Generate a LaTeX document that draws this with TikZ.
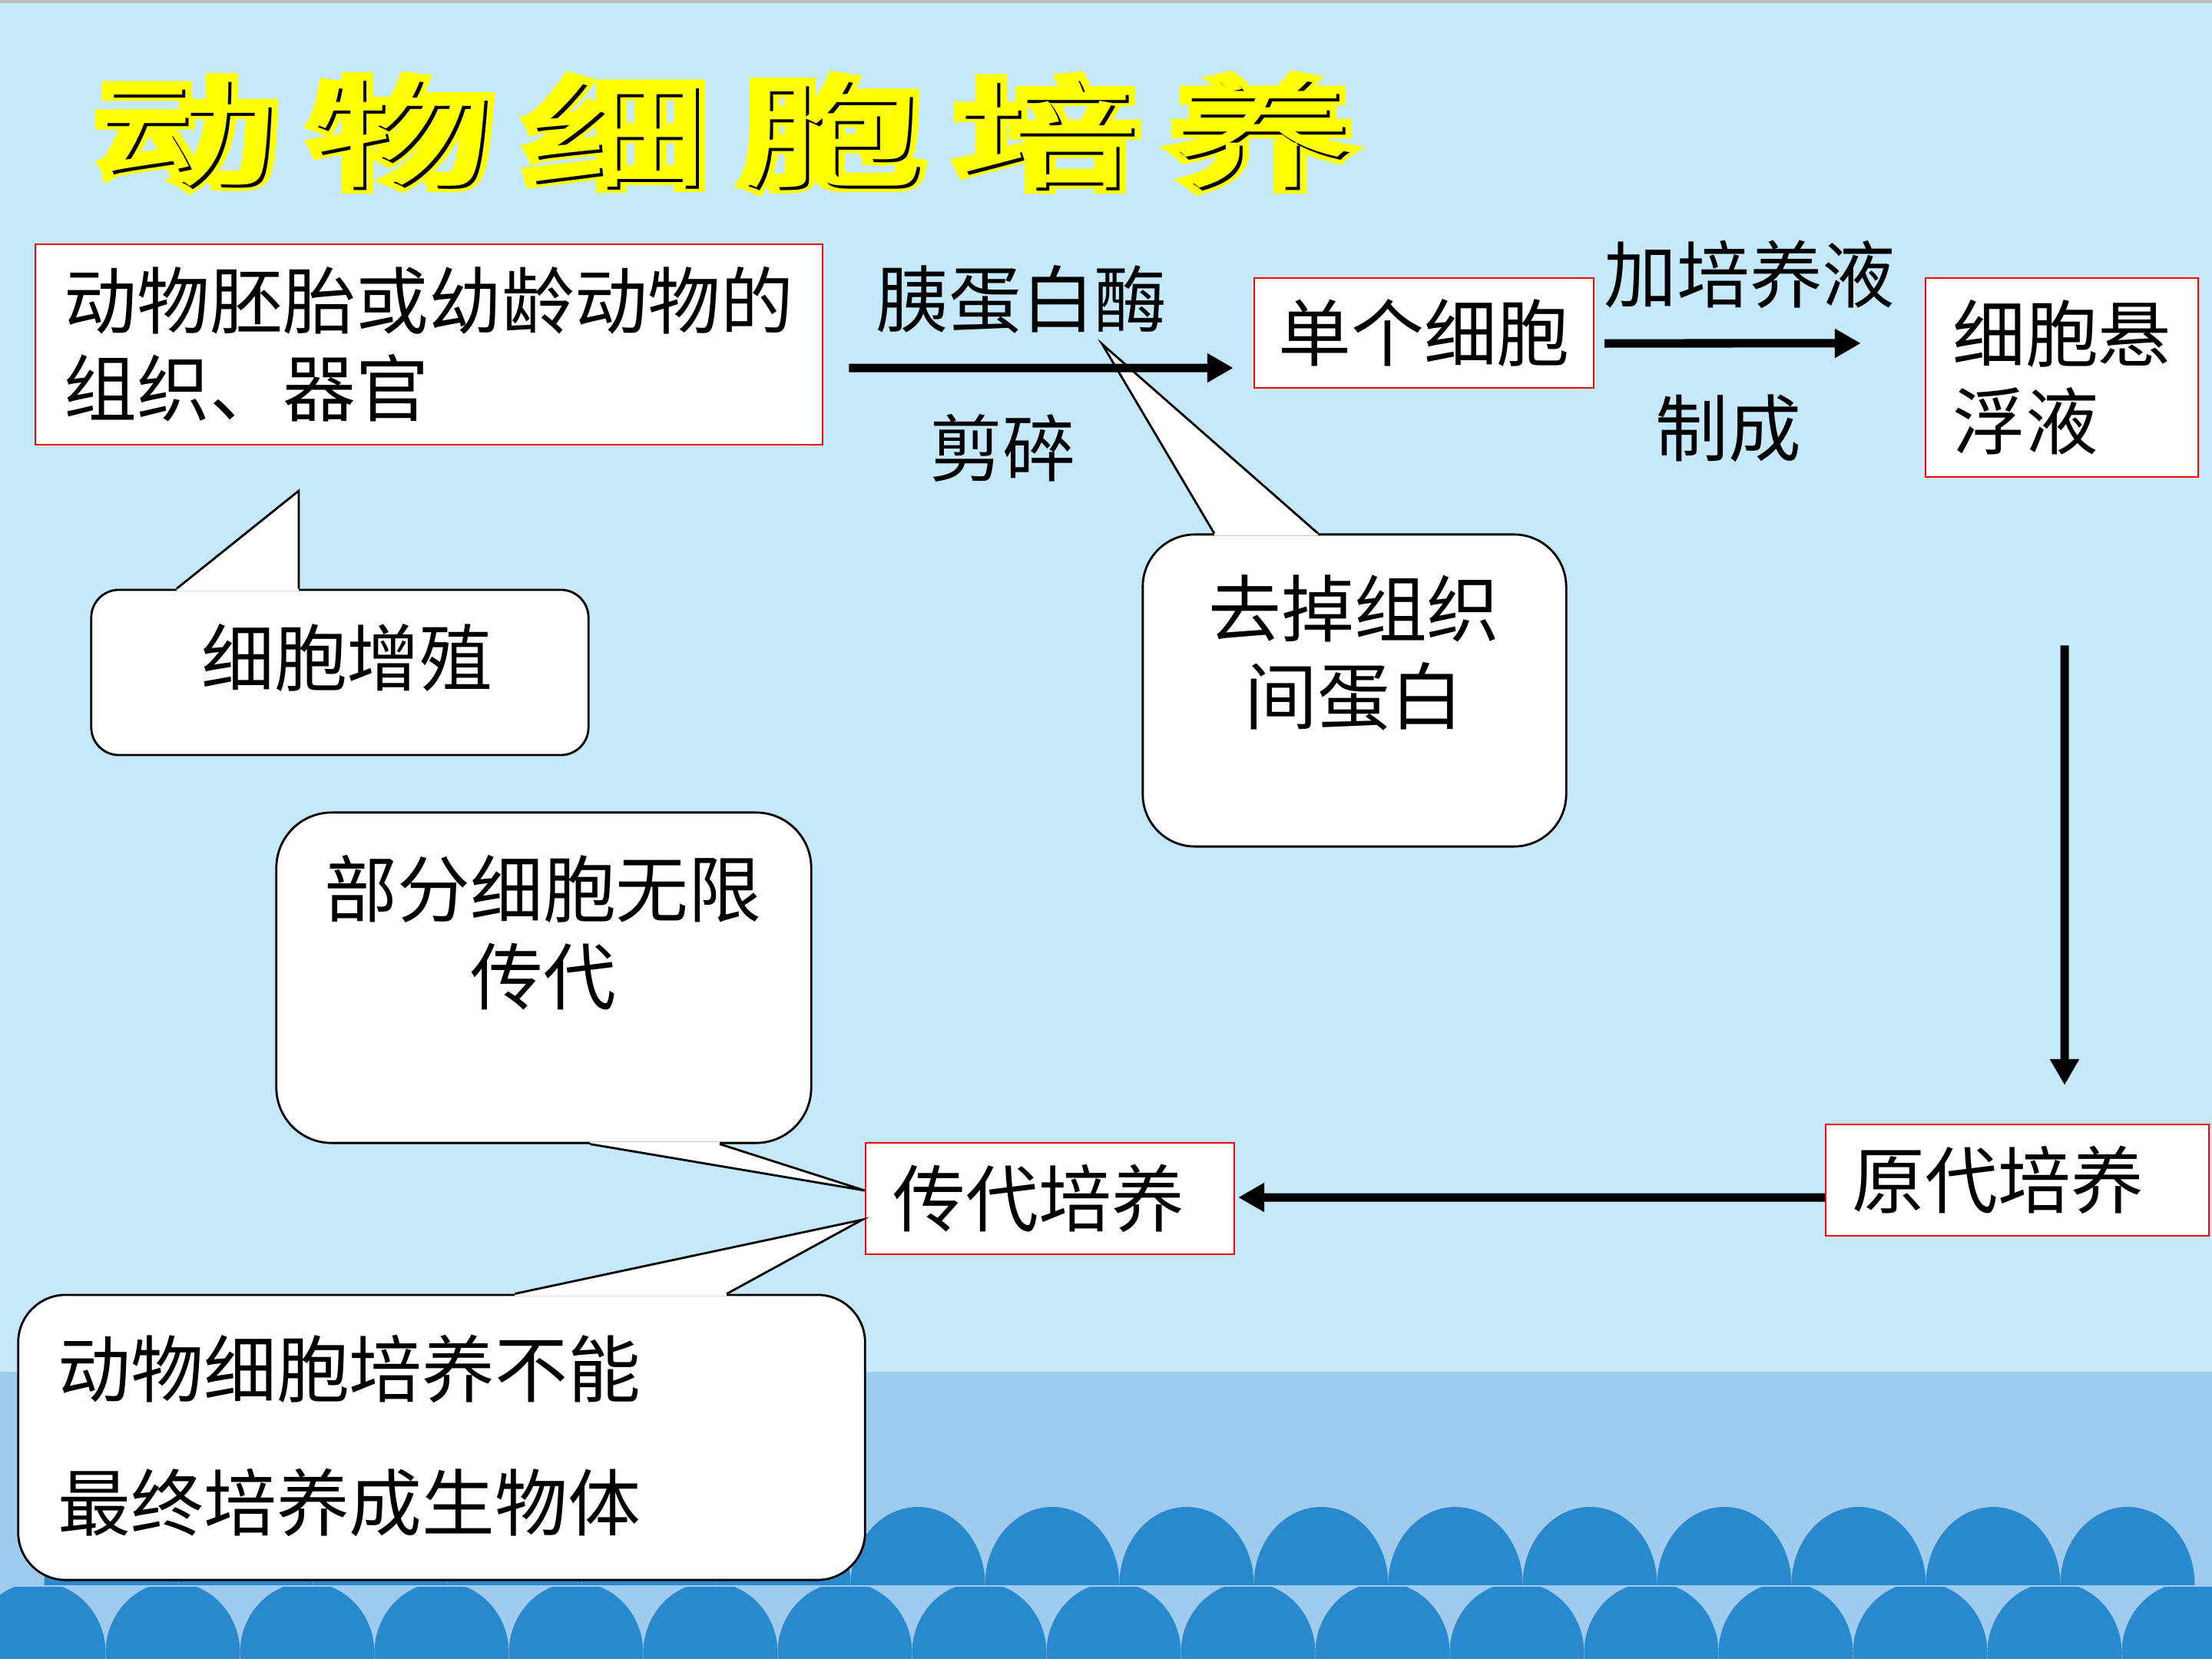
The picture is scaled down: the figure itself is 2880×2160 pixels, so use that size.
\documentclass[tikz,border=0pt]{standalone}
\usepackage{graphicx}
\usepackage{fontspec}
\setmainfont{Noto Sans CJK SC}
\newfontfamily\halofont{Noto Sans CJK SC}[FakeBold=10]
\usetikzlibrary{arrows.meta,calc,positioning}
\definecolor{SkyClr}{HTML}{C5E8FA}
\definecolor{SeaClr}{HTML}{9FCBEF}
\definecolor{WaveClr}{HTML}{2A88CC}
\definecolor{RimClr}{HTML}{C0C0C0}
\definecolor{TitleClr}{HTML}{FFFF00}

\begin{document}
\begin{tikzpicture}[x=0.01cm,y=-0.01cm,
  stepbox/.style={draw=red,line width=0.6pt,fill=white,inner sep=0pt,align=left,
    font=\fontsize{27pt}{32.4pt}\selectfont},
  bubble/.style={draw=black,line width=0.8pt,fill=white,inner sep=0pt},
  tailline/.style={line width=0.8pt},
  caption/.style={inner sep=0pt,align=center,font=\fontsize{27pt}{32.4pt}\selectfont},
  flow/.style={line width=0.11cm,-{Triangle[length=0.34cm,width=0.36cm]}},
  glyph/.style={inner sep=0pt,font=\fontsize{44pt}{44pt}\selectfont},
  glyphhalo/.style={inner sep=0pt,font=\halofont\fontsize{44pt}{44pt}\selectfont}]

\useasboundingbox (0,0) rectangle (2880,2160);
% background and waves
\fill[SkyClr] (0,0) rectangle (2880,2160);
\fill[RimClr] (0,0) rectangle (2880,4);
\fill[SeaClr] (0,1786) rectangle (2880,2160);
\begin{scope}
\clip (0,1786) rectangle (2880,2063);
\foreach \k in {0,...,15}
  \fill[WaveClr] (145+175*\k,2063) ellipse[x radius=87.5,y radius=101];
\end{scope}
\begin{scope}
\clip (0,2066) rectangle (2880,2160);
\foreach \k in {0,...,16}
  \fill[WaveClr] (50+175*\k,2152) ellipse[x radius=87.5,y radius=92];
\end{scope}

% title
\foreach \ch [count=\i from 0] in {动,物,细,胞,培,养}{
  \coordinate (t\i) at (243+280*\i,173);
  \node[glyphhalo,text=TitleClr] (halo\i) at (t\i) {\scalebox{1.55}[1]{\ch}};
  \node[glyph,text=black] (shade\i) at ($(t\i)+(4,4)$) {\scalebox{1.55}[1]{\ch}};
  \node[glyph,text=TitleClr] (title\i) at (t\i) {\scalebox{1.55}[1]{\ch}};
}

% steps
\node[stepbox,minimum width=10.25cm,minimum height=2.61cm] (organ) at (558.5,448.5) {动物胚胎或幼龄动物的\\组织、器官};
\node[stepbox,minimum width=4.42cm,minimum height=1.43cm] (single) at (1854,433.5) {单个细胞};
\node[stepbox,minimum width=3.55cm,minimum height=2.59cm] (susp) at (2684.5,491.5) {细胞悬\\浮液};
\node[stepbox,minimum width=4.99cm,minimum height=1.45cm,text width=4.29cm] (primary) at (2626.5,1536.5) {原代培养};
\node[stepbox,minimum width=4.80cm,minimum height=1.45cm,text width=4.08cm] (passage) at (1367,1560.5) {传代培养};

% callouts
\node[bubble,rounded corners=0.36cm,minimum width=6.47cm,minimum height=2.15cm] (growbox) at (442.5,875.5) {};
\node[bubble,rounded corners=0.68cm,minimum width=5.51cm,minimum height=4.06cm] (stripbox) at (1763.5,899) {};
\node[bubble,rounded corners=0.72cm,minimum width=6.96cm,minimum height=4.30cm] (linebox) at (708,1273) {};
\node[bubble,rounded corners=0.62cm,minimum width=11.02cm,minimum height=3.71cm] (limitbox) at (575,1871.5) {};

\coordinate (grow-l) at ([xshift=-2.125cm]growbox.north);
\coordinate (grow-r) at ([xshift=-0.535cm]growbox.north);
\coordinate (grow-tip) at (389,639);
\coordinate (strip-l) at ([xshift=-1.825cm]stripbox.north);
\coordinate (strip-r) at ([xshift=-0.475cm]stripbox.north);
\coordinate (strip-tip) at (1435,448);
\coordinate (line-l) at ([xshift=0.6cm]linebox.south);
\coordinate (line-r) at ([xshift=2.29cm]linebox.south);
\coordinate (line-tip) at ([yshift=0.105cm]passage.west);
\coordinate (limit-l) at ([xshift=0.95cm]limitbox.north);
\coordinate (limit-r) at ([xshift=3.71cm]limitbox.north);
\coordinate (limit-tip) at ([xshift=-0.03cm,yshift=-0.275cm]passage.west);
\foreach \n/\d in {grow/3,strip/3,line/-3,limit/3}{
  \fill[white] (\n-l) -- (\n-tip) -- (\n-r) -- ++(0,\d) -| (\n-l) -- cycle;
  \draw[tailline] (\n-l) -- (\n-tip) -- (\n-r);
}

\node[caption] (grow) at (452,856) {细胞增殖};
\node[caption] (strip) at (1763,850) {去掉组织\\间蛋白};
\node[caption] (line) at (707,1214) {部分细胞无限\\传代};
\node[caption,align=left,font=\fontsize{27pt}{49.4pt}\selectfont] (limit) at (455,1869) {动物细胞培养不能\\最终培养成生物体};

% arrows
\draw[flow] ([xshift=0.33cm,yshift=-0.305cm]organ.east) -- ([xshift=-0.26cm,yshift=-0.455cm]single.west);
\draw[flow] ([xshift=0.13cm,yshift=-0.135cm]single.east) -- ([xshift=-0.83cm,yshift=0.445cm]susp.west);
\draw[flow] ([xshift=0.035cm,yshift=-2.18cm]susp.south) -- ([xshift=0.615cm,yshift=0.5cm]primary.north);
\draw[flow] ([yshift=-0.225cm]primary.west) -- ([xshift=0.04cm,yshift=0.015cm]passage.east);

\node[caption] (trypsin) at (1330,390) {胰蛋白酶};
\node[caption] (mince) at (1305,583) {剪碎};
\node[caption] (medium) at (2278,357) {加培养液};
\node[caption] (make) at (2250,558) {制成};
\end{tikzpicture}
\end{document}
